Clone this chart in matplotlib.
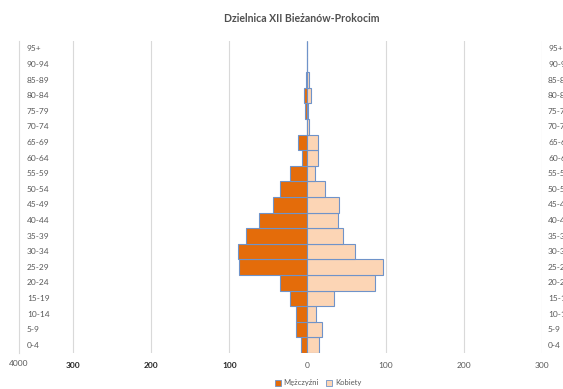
import matplotlib
matplotlib.use('Agg')
import matplotlib.pyplot as plt
from matplotlib.transforms import blended_transform_factory
from matplotlib.patches import Patch

plt.rcParams['font.family'] = ['Lato', 'DejaVu Sans']

# age groups, bottom to top
ages = ['0-4', '5-9', '10-14', '15-19', '20-24', '25-29', '30-34', '35-39',
        '40-44', '45-49', '50-54', '55-59', '60-64', '65-69', '70-74',
        '75-79', '80-84', '85-89', '90-94', '95+']
men = [8, 15, 15, 22, 35, 87, 89, 78, 62, 44, 35, 22, 7, 12, 1, 3, 4, 2.5, 0, 0]
women = [15, 18, 11, 34, 86, 96, 61, 46, 39, 40, 23, 10, 13, 14, 2.5, 1, 4, 2, 0, 0]

xticks = [-300, -200, -100, 0, 100, 200, 300]
xlabels = ['300', '200', '100', '0', '100', '200', '300']

male_col = '#E46C0A'
female_col = '#FCD5B5'
edge_col = '#6F93C9'
grid_col = '#D9D9D9'
text_col = '#595959'

fig = plt.figure(figsize=(5.63, 3.89), dpi=100)
ax = fig.add_axes([0.0337, 0.0925, 0.929, 0.802])

y = list(range(len(ages)))
ax.barh(y, [-m for m in men], height=1.0, color=male_col,
        edgecolor=edge_col, linewidth=0.8, zorder=3)
ax.barh(y, women, height=1.0, color=female_col,
        edgecolor=edge_col, linewidth=0.8, zorder=3)

ax.set_xlim(-369, 300)
ax.set_ylim(-0.5, len(ages) - 0.5)

for x in xticks:
    ax.axvline(x, color=grid_col, linewidth=0.8, zorder=1)

for s in ['top', 'right', 'bottom']:
    ax.spines[s].set_visible(False)
ax.spines['left'].set_color(grid_col)
ax.spines['left'].set_linewidth(0.8)

ax.set_xticks([])
ax.set_yticks([])

# age labels inside the left edge and past the right edge (cut by the figure edge)
tr = blended_transform_factory(ax.transAxes, ax.transData)
for i, a in enumerate(ages):
    ax.text(0.0153, i, a, transform=tr, ha='left', va='center',
            fontsize=6, color=text_col)
    ax.text(1.0115, i, a, transform=tr, ha='left', va='center',
            fontsize=6, color=text_col, clip_on=False)

# x labels
trx = blended_transform_factory(ax.transData, fig.transFigure)
for x, lab in zip(xticks, xlabels):
    dark = x < 0
    ax.text(x, 1 - 365 / 389, lab, transform=trx, ha='center', va='center',
            fontsize=6, color='#262626' if dark else text_col,
            fontweight='bold' if dark else 'normal')
ax.text(-369, 1 - 364 / 389, '4000', transform=trx, ha='center',
        va='center', fontsize=6, color=text_col)

fig.text(302 / 563, 1 - 18 / 389, 'Dzielnica XII Bieżanów-Prokocim',
         ha='center', va='center', fontsize=7.6, fontweight='bold',
         color='#505050')

handles = [Patch(facecolor=male_col, edgecolor=edge_col, linewidth=0.6),
           Patch(facecolor=female_col, edgecolor=edge_col, linewidth=0.6)]
fig.legend(handles, ['Mężczyźni', 'Kobiety'], loc='center',
           bbox_to_anchor=(318 / 563, 1 - 383 / 389), ncol=2, frameon=False,
           fontsize=5.5, handlelength=0.8, handleheight=0.8,
           handletextpad=0.3, columnspacing=1.0, labelcolor=text_col)

fig.savefig('out.png', dpi=100)
